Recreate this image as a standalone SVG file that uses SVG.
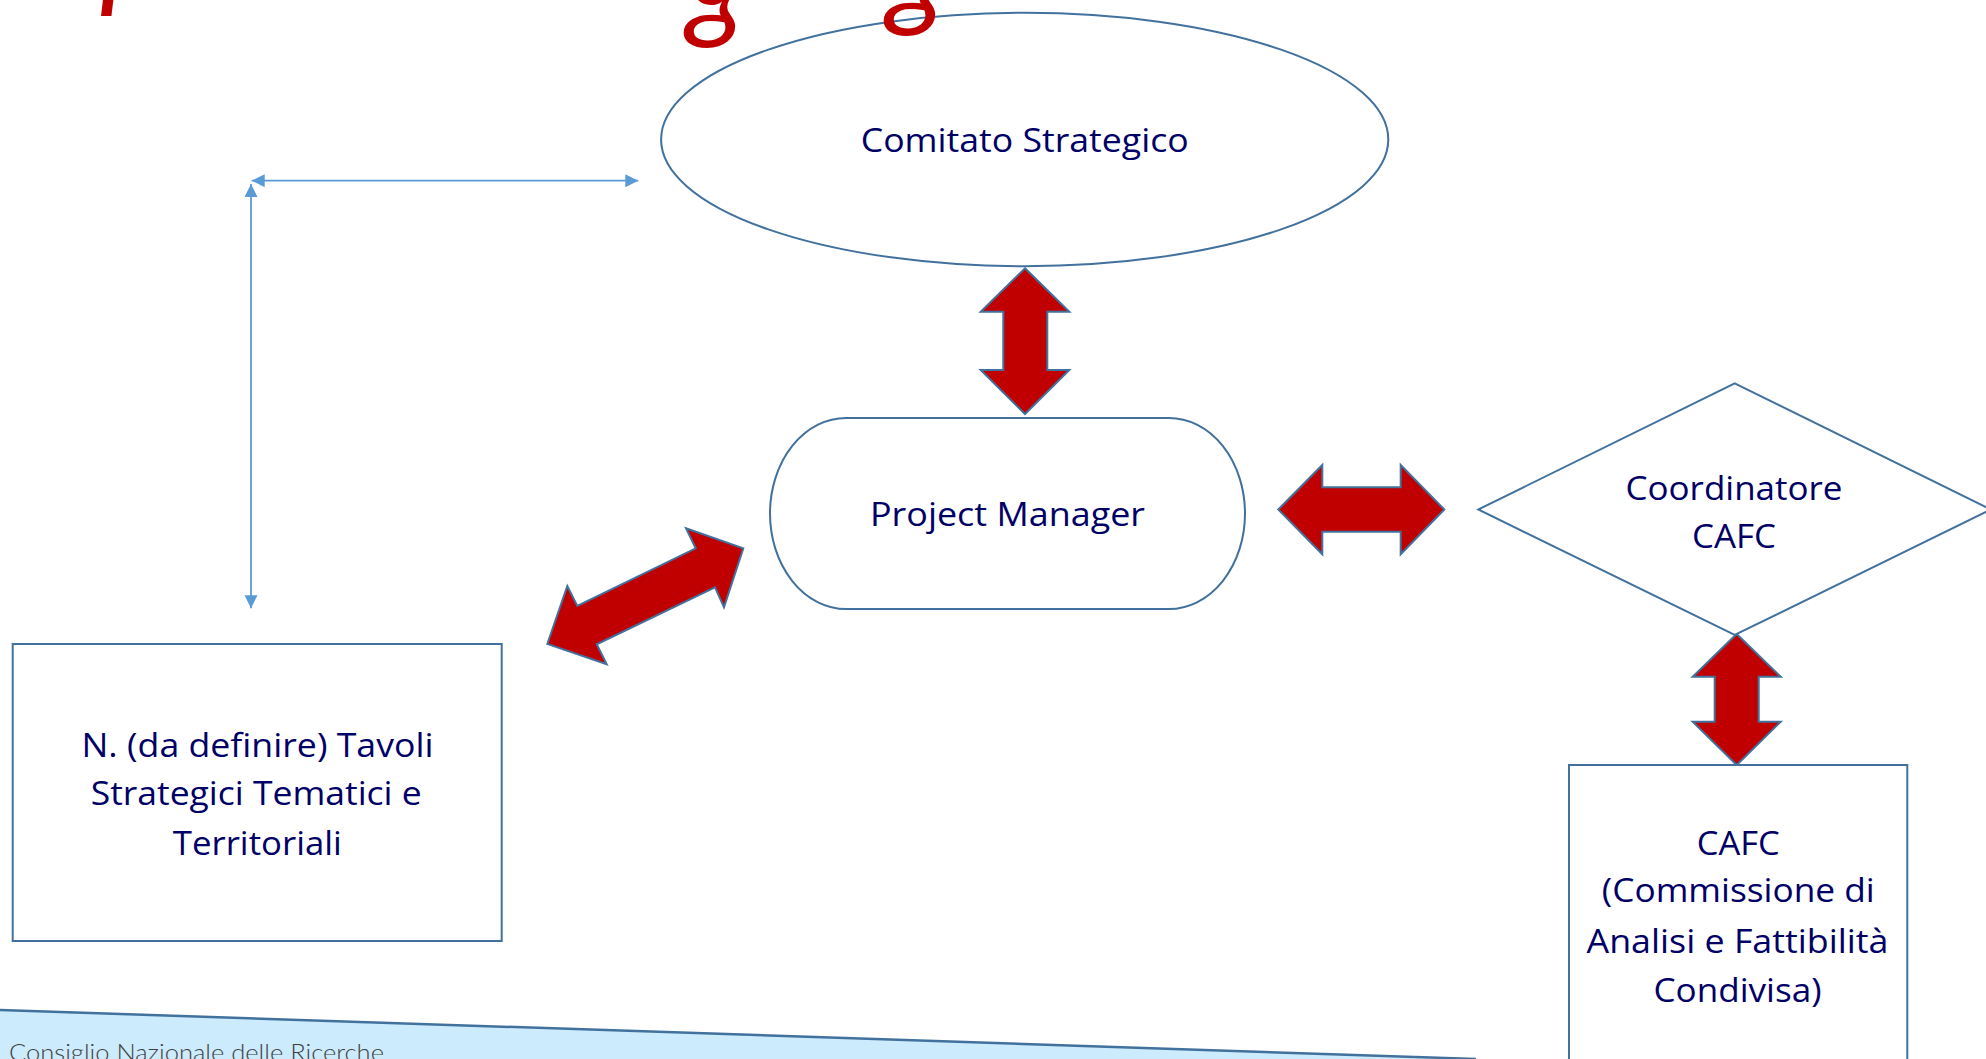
<svg xmlns="http://www.w3.org/2000/svg" width="1986" height="1059" viewBox="0 0 1986 1059">
  <style>
    .shape { fill: #FFFFFF; stroke: #41719C; stroke-width: 2; }
    .label { font-family: "Open Sans", "Noto Sans", "Liberation Sans", sans-serif; font-size: 33px; fill: #000066; text-anchor: middle; }
    .dbl { fill: #C00000; stroke: #41719C; stroke-width: 2; stroke-linejoin: miter; }
    .thin { fill: none; stroke: #5B9BD5; stroke-width: 1.8; }
    .title { font-family: Lato, "Liberation Sans", sans-serif; font-style: italic; font-weight: 400; font-size: 120px; fill: #C00000; }
  </style>
  <defs>
    <marker id="tri" markerUnits="userSpaceOnUse" markerWidth="14" markerHeight="14" refX="13" refY="6.5" orient="auto-start-reverse">
      <path d="M0,0 L13,6.5 L0,13 Z" fill="#5B9BD5"/>
    </marker>
  </defs>

  <rect width="1986" height="1059" fill="#FFFFFF"/>

  <!-- footer band -->
  <g id="footer">
    <polygon points="0,1010 1476,1059 0,1059" fill="#CCEBFD"/>
    <line x1="0" y1="1010" x2="1476" y2="1059" stroke="#41719C" stroke-width="2.5"/>
    <text x="9" y="1061" font-family="Lato, 'Open Sans', sans-serif" font-weight="300" font-size="23" fill="#404040" textLength="375" lengthAdjust="spacingAndGlyphs">Consiglio Nazionale delle Ricerche</text>
  </g>

  <!-- connectors -->
  <g id="connectors">
    <line class="thin" x1="251.7" y1="180.7" x2="638.3" y2="180.7" marker-start="url(#tri)" marker-end="url(#tri)"/>
    <line class="thin" x1="251" y1="184" x2="251" y2="608.3" marker-start="url(#tri)" marker-end="url(#tri)"/>

    <!-- Comitato <-> Project Manager -->
    <polygon class="dbl" points="1025,268.3 1069.3,311.7 1047.3,311.7 1047.3,370 1069.3,370 1025,414 980.7,370 1003.3,370 1003.3,311.7 980.7,311.7"/>
    <!-- Project Manager <-> Coordinatore -->
    <polygon class="dbl" points="1278.3,509.5 1322.3,465 1322.3,487.3 1400.7,487.3 1400.7,465 1444.3,509.5 1400.7,554.3 1400.7,531.7 1322.3,531.7 1322.3,554.3"/>
    <!-- Project Manager <-> Tavoli -->
    <polygon class="dbl" points="547.3,644 567.3,586 577.3,606 695.7,548.3 686,528.3 743.3,548.3 724,607.3 715,587.3 596.7,644.3 606.7,664.3"/>
    <!-- Coordinatore <-> CAFC -->
    <polygon class="dbl" points="1736.7,634 1780.7,676.7 1758.7,676.7 1758.7,721.7 1780.7,721.7 1736.7,765 1692.7,721.7 1714.7,721.7 1714.7,676.7 1692.7,676.7"/>
  </g>

  <g id="comitato">
    <ellipse class="shape" cx="1024.7" cy="139.5" rx="363.6" ry="126.7"/>
    <text class="label" x="1024.7" y="152" textLength="328" lengthAdjust="spacingAndGlyphs">Comitato Strategico</text>
  </g>

  <g id="project-manager">
    <rect class="shape" x="770" y="418" width="475" height="191" rx="76" ry="95.5"/>
    <text class="label" x="1007.5" y="526" textLength="275" lengthAdjust="spacingAndGlyphs">Project Manager</text>
  </g>

  <g id="coordinatore">
    <polygon class="shape" points="1734.7,383.3 1991,509.5 1734.7,635 1478.3,509.5"/>
    <text class="label" x="1734" y="500" textLength="217" lengthAdjust="spacingAndGlyphs">Coordinatore</text>
    <text class="label" x="1734" y="548.3" textLength="84" lengthAdjust="spacingAndGlyphs">CAFC</text>
  </g>

  <g id="tavoli">
    <rect class="shape" x="12.7" y="644" width="489" height="297"/>
    <text class="label" x="257.5" y="756.7" textLength="352" lengthAdjust="spacingAndGlyphs">N. (da definire) Tavoli</text>
    <text class="label" x="256.2" y="805" textLength="331" lengthAdjust="spacingAndGlyphs">Strategici Tematici e</text>
    <text class="label" x="257.3" y="855" textLength="169" lengthAdjust="spacingAndGlyphs">Territoriali</text>
  </g>

  <g id="cafc">
    <rect class="shape" x="1569" y="765" width="338.3" height="330"/>
    <text class="label" x="1738.3" y="855" textLength="83" lengthAdjust="spacingAndGlyphs">CAFC</text>
    <text class="label" x="1738.3" y="902" textLength="273" lengthAdjust="spacingAndGlyphs">(Commissione di</text>
    <text class="label" x="1737.5" y="953" textLength="302" lengthAdjust="spacingAndGlyphs">Analisi e Fattibilità</text>
    <text class="label" x="1737.5" y="1001.7" textLength="168" lengthAdjust="spacingAndGlyphs">Condivisa)</text>
  </g>

  <!-- title, cut off by the top edge; drawn over the ellipse -->
  <g id="title">
    <text class="title" x="100" y="-5">p</text>
    <text class="title" x="716" y="26" text-anchor="middle">g</text>
    <text class="title" x="916" y="14" text-anchor="middle">g</text>
  </g>
</svg>
